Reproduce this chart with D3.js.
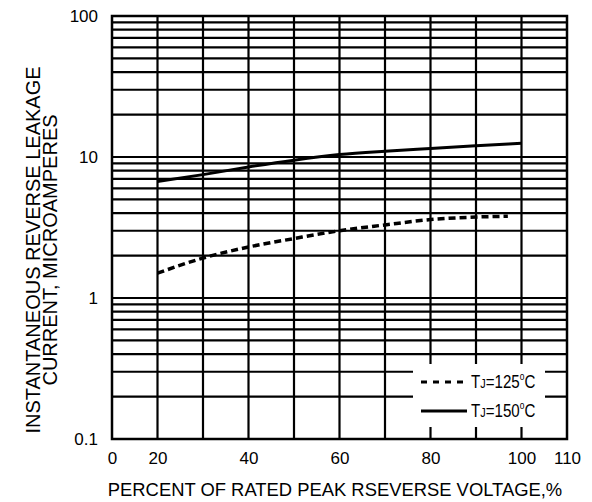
<!DOCTYPE html>
<meta charset="utf-8">
<style>
  body { margin: 0; background: #fff; }
  text { font-family: "Liberation Sans", Arial, sans-serif; fill: #000; }
</style>

<!-- Load d3.js -->
<script src="https://d3js.org/d3.v7.min.js"></script>

<!-- Create a div where the graph will take place -->
<div id="my_dataviz"></div>

<script>

    // data
    var pct150 = [20, 30, 40, 50, 60, 70, 80, 90, 100];
    var tj150  = [6.7, 7.5, 8.5, 9.5, 10.4, 11.0, 11.5, 12.0, 12.5];
    var pct125 = [20, 30, 40, 50, 60, 70, 80, 90, 97];
    var tj125  = [1.5, 1.92, 2.3, 2.64, 3.0, 3.3, 3.6, 3.75, 3.8];

    // x axis is broken: "0" sits where 10 would be
    var xTickValues = [10, 20, 40, 60, 80, 100, 110];
    var xTickLabels = ["0", "20", "40", "60", "80", "100", "110"];
    var xGrid = [20, 30, 40, 50, 60, 70, 80, 90, 100];
    var yTickValues = [0.1, 1, 10, 100];
    var yTickLabels = ["0.1", "1", "10", "100"];
    var legendLabels = ["125", "150"];

    // set the dimensions and margins of the graph
    var margin = {top: 16, right: 25, bottom: 63, left: 112},
        width = 592 - margin.left - margin.right,
        height = 502 - margin.top - margin.bottom;

    var svg = d3.select("#my_dataviz")
      .append("svg")
        .attr("width", width + margin.left + margin.right)
        .attr("height", height + margin.top + margin.bottom)
      .append("g")
        .attr("transform", "translate(" + margin.left + "," + margin.top + ")");

    var x = d3.scaleLinear().domain([10, 110]).range([0, width]);
    var y = d3.scaleLog().domain([0.1, 100]).range([height, 0]);

    // log grid: 1..9 in every decade
    var yGrid = [];
    [0.1, 1, 10].forEach(function(d) {
      for (var k = 1; k < 10; k++) yGrid.push(d * k);
    });
    yGrid.push(100);

    svg.append("g").selectAll("line.h")
      .data(yGrid).enter().append("line")
        .attr("x1", 0).attr("x2", width)
        .attr("y1", function(d) { return y(d); })
        .attr("y2", function(d) { return y(d); })
        .attr("stroke", "#000").attr("stroke-width", 2.2);

    svg.append("g").selectAll("line.v")
      .data(xGrid).enter().append("line")
        .attr("x1", function(d) { return x(d); })
        .attr("x2", function(d) { return x(d); })
        .attr("y1", 0).attr("y2", height)
        .attr("stroke", "#000").attr("stroke-width", 2.2);

    // frame
    svg.append("rect")
      .attr("width", width).attr("height", height)
      .attr("fill", "none").attr("stroke", "#000").attr("stroke-width", 2.5);

    // axes (labels only)
    var xAxis = svg.append("g")
      .attr("transform", "translate(0," + height + ")")
      .call(d3.axisBottom(x).tickValues(xTickValues).tickSize(0).tickPadding(13)
        .tickFormat(function(d, i) { return xTickLabels[i]; }));
    xAxis.select(".domain").remove();
    xAxis.selectAll("text").style("font-size", "17px");

    var yAxis = svg.append("g")
      .call(d3.axisLeft(y).tickValues(yTickValues).tickSize(0).tickPadding(14)
        .tickFormat(function(d, i) { return yTickLabels[i]; }));
    yAxis.select(".domain").remove();
    yAxis.selectAll("text").style("font-size", "17px");

    // curves
    var line = d3.line()
      .x(function(d) { return x(d[0]); })
      .y(function(d) { return y(d[1]); })
      .curve(d3.curveMonotoneX);

    svg.append("path")
      .datum(d3.zip(pct150, tj150))
      .attr("fill", "none").attr("stroke", "#000").attr("stroke-width", 3)
      .attr("d", line);

    svg.append("path")
      .datum(d3.zip(pct125, tj125))
      .attr("fill", "none").attr("stroke", "#000").attr("stroke-width", 3.5)
      .attr("stroke-dasharray", "7,4")
      .attr("d", line);

    // legend, on a white patch over the grid
    var leg = svg.append("g").attr("transform", "translate(" + (413 - margin.left) + "," + (364 - margin.top) + ")");
    leg.append("rect").attr("width", 132).attr("height", 63).attr("fill", "#fff");

    legendLabels.forEach(function(t, i) {
      var yy = 18 + i * 29;
      leg.append("line")
        .attr("x1", 8).attr("x2", 54).attr("y1", yy).attr("y2", yy)
        .attr("stroke", "#000").attr("stroke-width", 3)
        .attr("stroke-dasharray", i === 0 ? "6,6" : null);
      var txt = leg.append("text")
        .attr("transform", "translate(58," + (yy + 6) + ") scale(0.84,1)")
        .style("font-size", "18px");
      txt.append("tspan").text("T");
      txt.append("tspan").style("font-size", "13px").text("J");
      txt.append("tspan").text("=" + t);
      txt.append("tspan").style("font-size", "10px").attr("dy", -8).text("o");
      txt.append("tspan").attr("dy", 8).text("C");
    });

    // axis titles
    svg.append("text")
      .attr("x", 335 - margin.left).attr("y", 496 - margin.top)
      .attr("text-anchor", "middle").style("font-size", "18.4px")
      .text("PERCENT OF RATED PEAK RSEVERSE VOLTAGE,%");

    svg.append("text")
      .attr("transform", "translate(" + (40 - margin.left) + "," + (250 - margin.top) + ") rotate(-90)")
      .attr("text-anchor", "middle").style("font-size", "20px")
      .text("INSTANTANEOUS REVERSE LEAKAGE");
    svg.append("text")
      .attr("transform", "translate(" + (57 - margin.left) + "," + (250 - margin.top) + ") rotate(-90)")
      .attr("text-anchor", "middle").style("font-size", "20px")
      .text("CURRENT, MICROAMPERES");

</script>
